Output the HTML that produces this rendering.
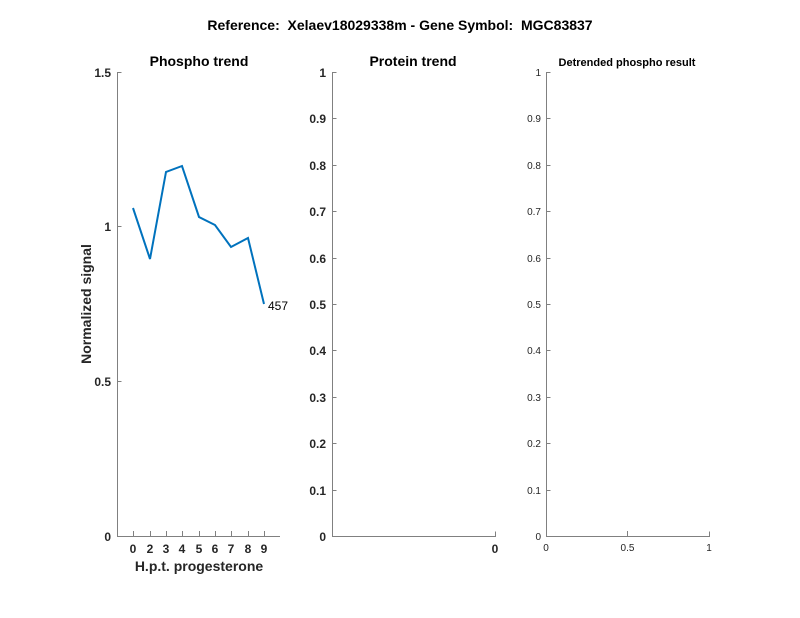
<!DOCTYPE html>
<html><head><meta charset="utf-8"><style>
html,body{margin:0;padding:0;background:#fff;}
svg{display:block;font-family:"Liberation Sans",Arial,sans-serif;}
</style></head><body>
<svg width="800" height="618" viewBox="0 0 800 618" xmlns="http://www.w3.org/2000/svg">
<rect width="800" height="618" fill="#fff"/>
<text x="400" y="30" text-anchor="middle" font-size="14" font-weight="bold" fill="#000">Reference:&#160; Xelaev18029338m - Gene Symbol:&#160; MGC83837</text>

<!-- Panel 1 -->
<g stroke="#808080" stroke-width="1" fill="none">
<path d="M117.5,72 V536.5 H280"/>
<path d="M117.5,72.5 h4 M117.5,226.5 h4 M117.5,381.5 h4 M117.5,536.5 h4"/>
<path d="M133.5,536 v-5 M150.5,536 v-5 M166.5,536 v-5 M182.5,536 v-5 M199.5,536 v-5 M215.5,536 v-5 M231.5,536 v-5 M248.5,536 v-5 M264.5,536 v-5"/>
</g>
<g font-size="12" font-weight="bold" fill="#262626" text-anchor="end">
<text x="111" y="77">1.5</text><text x="111" y="231">1</text><text x="111" y="386">0.5</text><text x="111" y="541">0</text>
</g>
<g font-size="12" font-weight="bold" fill="#262626" text-anchor="middle">
<text x="133" y="553">0</text><text x="150" y="553">2</text><text x="166" y="553">3</text><text x="182" y="553">4</text><text x="199" y="553">5</text><text x="215" y="553">6</text><text x="231" y="553">7</text><text x="248" y="553">8</text><text x="264" y="553">9</text>
</g>
<text x="199" y="571" text-anchor="middle" font-size="14" font-weight="bold" fill="#262626">H.p.t. progesterone</text>
<text transform="translate(91,304) rotate(-90)" text-anchor="middle" font-size="14" font-weight="bold" fill="#262626">Normalized signal</text>
<text x="199" y="66" text-anchor="middle" font-size="14" font-weight="bold" fill="#000">Phospho trend</text>
<polyline fill="none" stroke="#0072bd" stroke-width="2" points="133,208 150,259 166,172 182,166 199,217 215,225 231,247 248,238 264,304"/>
<text x="268" y="310" font-size="12" fill="#000">457</text>

<!-- Panel 2 -->
<g stroke="#808080" stroke-width="1" fill="none">
<path d="M332.5,72 V536.5 H495.5 v-5"/>
<path d="M332.5,72.5 h4 M332.5,118.5 h4 M332.5,165.5 h4 M332.5,211.5 h4 M332.5,258.5 h4 M332.5,304.5 h4 M332.5,350.5 h4 M332.5,397.5 h4 M332.5,443.5 h4 M332.5,490.5 h4"/>
</g>
<g font-size="12" font-weight="bold" fill="#262626" text-anchor="end">
<text x="326" y="77">1</text><text x="326" y="123">0.9</text><text x="326" y="170">0.8</text><text x="326" y="216">0.7</text><text x="326" y="263">0.6</text><text x="326" y="309">0.5</text><text x="326" y="355">0.4</text><text x="326" y="402">0.3</text><text x="326" y="448">0.2</text><text x="326" y="495">0.1</text><text x="326" y="541">0</text>
</g>
<text x="495" y="553" text-anchor="middle" font-size="12" font-weight="bold" fill="#262626">0</text>
<text x="413" y="66" text-anchor="middle" font-size="14" font-weight="bold" fill="#000">Protein trend</text>

<!-- Panel 3 -->
<g stroke="#808080" stroke-width="1" fill="none">
<path d="M546.5,72 V536.5 H709.5 v-5 M627.5,536 v-5"/>
<path d="M546.5,72.5 h4 M546.5,118.5 h4 M546.5,165.5 h4 M546.5,211.5 h4 M546.5,258.5 h4 M546.5,304.5 h4 M546.5,350.5 h4 M546.5,397.5 h4 M546.5,443.5 h4 M546.5,490.5 h4"/>
</g>
<g font-size="10" fill="#262626" text-anchor="end">
<text x="541" y="76">1</text><text x="541" y="122">0.9</text><text x="541" y="169">0.8</text><text x="541" y="215">0.7</text><text x="541" y="262">0.6</text><text x="541" y="308">0.5</text><text x="541" y="354">0.4</text><text x="541" y="401">0.3</text><text x="541" y="447">0.2</text><text x="541" y="494">0.1</text><text x="541" y="540">0</text>
</g>
<g font-size="10" fill="#262626" text-anchor="middle">
<text x="546" y="551">0</text><text x="627.5" y="551">0.5</text><text x="709" y="551">1</text>
</g>
<text x="627" y="66" text-anchor="middle" font-size="11" font-weight="bold" fill="#000">Detrended phospho result</text>
</svg>
</body></html>
